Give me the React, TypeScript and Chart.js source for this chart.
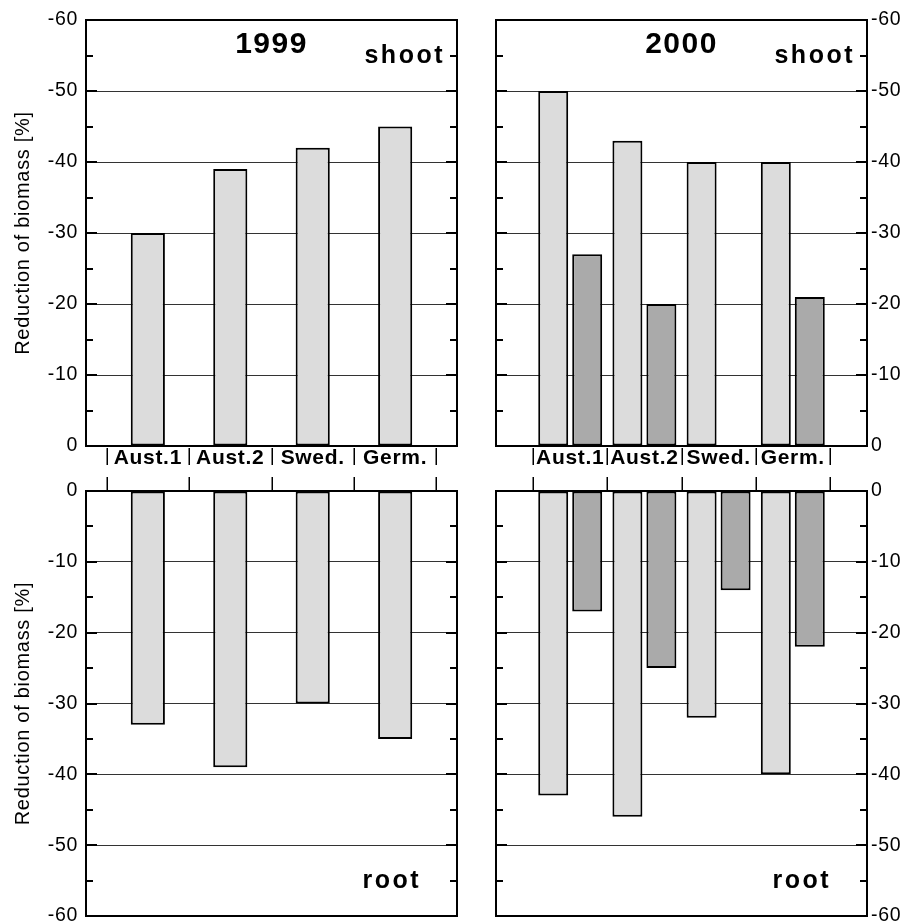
import React, { useEffect, useRef } from 'react';
import { Chart, registerables } from 'chart.js';

Chart.register(...registerables);

// ---------- data ----------
const CATEGORIES = ['Aust.1', 'Aust.2', 'Swed.', 'Germ.'];
const Y_TICKS = [-60, -50, -40, -30, -20, -10, 0];
const SHOOT_1999 = [-30, -39, -42, -45];
const ROOT_1999 = [-33, -39, -30, -35];
const SHOOT_2000_LIGHT = [-50, -43, -40, -40];
const SHOOT_2000_DARK: (number | null)[] = [-27, -20, null, -21];
const ROOT_2000_LIGHT = [-43, -46, -32, -40];
const ROOT_2000_DARK = [-17, -25, -14, -22];
const Y_TITLE = 'Reduction of biomass [%]';
const YEARS = ['1999', '2000'];
const PARTS = ['shoot', 'root'];

const FAMILY = '"Liberation Sans", Arial, Helvetica, sans-serif';
const COLORS = ['#dcdcdc', '#aaaaaa'];

type PanelSpec = {
  year?: string;
  part: string;
  series: (number | null)[][];
  side: 'left' | 'right';
  isTop: boolean;
  left: number;
  top: number;
  w: number;
  h: number;
  padding: { top: number; right: number; bottom: number; left: number };
  xMin: number;
  xMax: number;
  cp: number;
  bp: number;
};

function decorPlugin(p: PanelSpec) {
  return {
    id: 'decor',
    beforeDraw(chart: any) {
      chart.ctx.letterSpacing = '0.7px';
    },
    afterDraw(chart: any) {
      const { ctx, chartArea: a, scales } = chart;
      const y = scales.y;
      const x = scales.x;
      ctx.save();
      ctx.letterSpacing = '0px';
      ctx.strokeStyle = '#000';
      // inward tick marks on both sides
      ctx.lineWidth = 2;
      for (let v = -60; v <= 0; v += 5) {
        const py = Math.round(y.getPixelForValue(v));
        const len = v % 10 === 0 ? 11 : 7;
        ctx.beginPath();
        ctx.moveTo(a.left, py);
        ctx.lineTo(a.left + len, py);
        ctx.moveTo(a.right, py);
        ctx.lineTo(a.right - len, py);
        ctx.stroke();
      }
      // frame
      ctx.strokeRect(a.left, a.top, a.right - a.left, a.bottom - a.top);
      // category separators
      ctx.lineWidth = 1.5;
      for (let i = 0; i <= CATEGORIES.length; i++) {
        const px = Math.round(x.getPixelForValue(i - 0.5)) + 0.25;
        ctx.beginPath();
        if (p.isTop) {
          ctx.moveTo(px, a.bottom + 2);
          ctx.lineTo(px, a.bottom + 19);
        } else {
          ctx.moveTo(px, a.top - 14);
          ctx.lineTo(px, a.top);
        }
        ctx.stroke();
      }
      // texts
      ctx.fillStyle = '#000';
      ctx.textBaseline = 'alphabetic';
      if (p.year) {
        ctx.font = `bold 30px ${FAMILY}`;
        ctx.letterSpacing = '1.5px';
        ctx.textAlign = 'center';
        ctx.fillText(p.year, (a.left + a.right) / 2, a.top + 33);
      }
      ctx.font = `bold 25px ${FAMILY}`;
      ctx.letterSpacing = '2.5px';
      ctx.textAlign = 'right';
      if (p.isTop) ctx.fillText(p.part, a.right - 12, a.top + 43);
      else ctx.fillText(p.part, a.right - 36, a.bottom - 28);
      ctx.restore();
    },
  };
}

function buildConfig(p: PanelSpec): any {
  return {
    type: 'bar',
    data: {
      datasets: p.series.map((vals, k) => ({
        data: CATEGORIES.map((_, i) => ({ x: i, y: vals[i] })),
        backgroundColor: COLORS[k],
        borderColor: '#000',
        borderWidth: 2,
        borderSkipped: false,
        categoryPercentage: p.cp,
        barPercentage: p.bp,
      })),
    },
    options: {
      responsive: false,
      animation: false,
      layout: { padding: p.padding },
      plugins: { legend: { display: false }, tooltip: { enabled: false }, title: { display: false } },
      scales: {
        x: {
          type: 'linear',
          min: p.xMin,
          max: p.xMax,
          offset: false,
          display: p.isTop,
          position: 'bottom',
          afterBuildTicks: (s: any) => {
            s.ticks = CATEGORIES.map((_, i) => ({ value: i }));
          },
          ticks: {
            autoSkip: false,
            maxRotation: 0,
            minRotation: 0,
            padding: 0,
            color: '#000',
            font: { family: FAMILY, size: 21, weight: 'bold' },
            callback: (v: number) => CATEGORIES[v] ?? '',
          },
          grid: { display: false, drawTicks: false, offset: false },
          border: { display: false },
          afterFit: (s: any) => {
            s.height = p.isTop ? 26 : 0;
            s.paddingLeft = 0;
            s.paddingRight = 0;
          },
        },
        y: {
          type: 'linear',
          min: -60,
          max: 0,
          reverse: p.isTop,
          position: p.side,
          afterBuildTicks: (s: any) => {
            s.ticks = Y_TICKS.map((v) => ({ value: v }));
          },
          ticks: {
            color: '#000',
            font: { family: FAMILY, size: 19.5 },
            padding: p.side === 'left' ? 8 : 4,
            callback: (v: number) => String(v),
          },
          grid: { color: '#333', lineWidth: 1, drawTicks: false },
          border: { display: false },
          title:
            p.side === 'left'
              ? {
                  display: true,
                  text: Y_TITLE,
                  color: '#000',
                  font: { family: FAMILY, size: 20 },
                  padding: { top: 11, bottom: 0 },
                }
              : { display: false },
          afterFit: (s: any) => {
            s.width = p.side === 'left' ? 86 : 42;
            s.paddingTop = 0;
            s.paddingBottom = 0;
          },
        },
      },
    },
    plugins: [decorPlugin(p)],
  };
}

const PANELS: PanelSpec[] = [
  {
    year: YEARS[0], part: PARTS[0], series: [SHOOT_1999], side: 'left', isTop: true,
    left: 0, top: 0, w: 470, h: 472,
    padding: { top: 20, right: 13, bottom: 0, left: 0 },
    xMin: -0.75, xMax: 3.75, cp: 0.46, bp: 0.9,
  },
  {
    part: PARTS[1], series: [ROOT_1999], side: 'left', isTop: false,
    left: 0, top: 472, w: 470, h: 452,
    padding: { top: 19, right: 13, bottom: 8, left: 0 },
    xMin: -0.75, xMax: 3.75, cp: 0.46, bp: 0.9,
  },
  {
    year: YEARS[1], part: PARTS[0], series: [SHOOT_2000_LIGHT, SHOOT_2000_DARK], side: 'right', isTop: true,
    left: 480, top: 0, w: 429, h: 472,
    padding: { top: 20, right: 0, bottom: 0, left: 16 },
    xMin: -1, xMax: 4, cp: 0.916, bp: 0.882,
  },
  {
    part: PARTS[1], series: [ROOT_2000_LIGHT, ROOT_2000_DARK], side: 'right', isTop: false,
    left: 480, top: 472, w: 429, h: 452,
    padding: { top: 19, right: 0, bottom: 8, left: 16 },
    xMin: -1, xMax: 4, cp: 0.916, bp: 0.882,
  },
];

function Panel({ p }: { p: PanelSpec }) {
  const ref = useRef<HTMLCanvasElement | null>(null);
  useEffect(() => {
    if (!ref.current) return;
    const chart = new Chart(ref.current, buildConfig(p));
    return () => chart.destroy();
  }, [p]);
  return (
    <canvas
      ref={ref}
      width={p.w}
      height={p.h}
      style={{ position: 'absolute', left: p.left, top: p.top, width: p.w, height: p.h }}
    />
  );
}

export default function App() {
  return (
    <div
      style={{
        position: 'absolute',
        left: 0,
        top: 0,
        width: 909,
        height: 924,
        overflow: 'hidden',
        background: '#fff',
      }}
    >
      {PANELS.map((p, i) => (
        <Panel key={i} p={p} />
      ))}
    </div>
  );
}
